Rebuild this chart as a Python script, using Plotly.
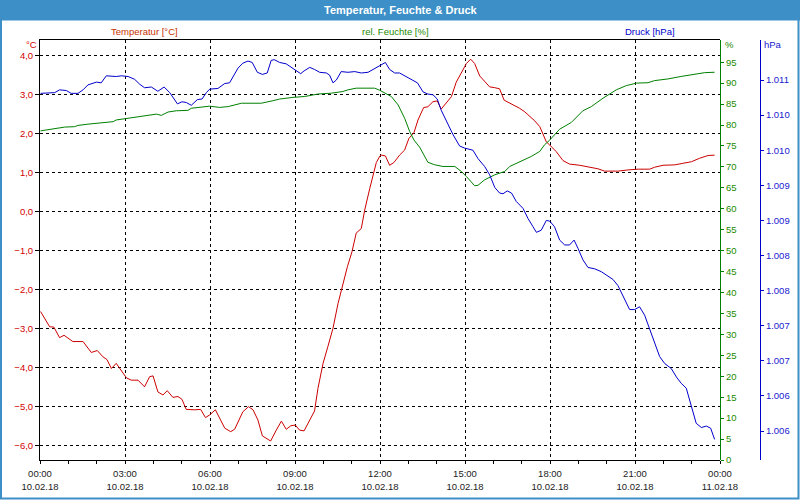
import pandas as pd
import plotly.graph_objects as go

# ---------------- data ----------------
temp_hours = [0.02, 0.34, 0.49, 0.69, 0.85, 1.16, 1.52, 1.81, 2.02, 2.22, 2.36, 2.52, 2.69, 2.87,
              3.05, 3.22, 3.46, 3.69, 3.87, 3.99, 4.16, 4.34, 4.49, 4.69, 4.87, 5.01, 5.16, 5.46,
              5.67, 5.84, 5.99, 6.19, 6.52, 6.73, 6.87, 7.16, 7.36, 7.52, 7.69, 7.85, 7.99, 8.14,
              8.34, 8.52, 8.69, 8.85, 9.01, 9.16, 9.32, 9.49, 9.69, 9.81, 9.99, 10.16, 10.34,
              10.52, 10.69, 10.85, 11.01, 11.16, 11.34, 11.46, 11.64, 11.78, 11.87, 12.00, 12.05,
              12.19, 12.34, 12.49, 12.69, 12.87, 13.02, 13.20, 13.34, 13.54, 13.69, 13.87, 14.02,
              14.16, 14.34, 14.52, 14.69, 14.87, 15.05, 15.20, 15.34, 15.52, 15.69, 15.87, 16.05,
              16.22, 16.38, 16.58, 16.75, 16.93, 17.11, 17.28, 17.46, 17.64, 17.75, 17.87, 17.99,
              18.22, 18.46, 18.69, 19.05, 19.40, 19.69, 19.93, 20.40, 20.75, 21.11, 21.52, 21.69,
              21.99, 22.40, 22.69, 22.99, 23.28, 23.58, 23.81]
temp_values = [-2.57, -2.96, -2.97, -3.24, -3.18, -3.34, -3.34, -3.62, -3.57, -3.73, -3.80, -4.03,
               -3.90, -4.07, -4.27, -4.33, -4.33, -4.50, -4.24, -4.22, -4.63, -4.71, -4.60, -4.77,
               -4.75, -4.82, -5.08, -5.09, -5.08, -5.29, -5.22, -5.09, -5.56, -5.65, -5.59, -5.14,
               -5.01, -5.09, -5.35, -5.76, -5.82, -5.89, -5.61, -5.38, -5.59, -5.50, -5.48, -5.61,
               -5.63, -5.38, -5.12, -4.54, -3.90, -3.47, -3.00, -2.36, -1.85, -1.42, -1.04, -0.56,
               -0.44, 0.03, 0.59, 1.02, 1.25, 1.42, 1.44, 1.42, 1.18, 1.25, 1.44, 1.57, 1.87, 2.02,
               2.34, 2.66, 2.68, 2.81, 2.83, 2.62, 2.77, 2.94, 3.31, 3.56, 3.79, 3.90, 3.79, 3.47,
               3.34, 3.19, 3.17, 3.14, 2.85, 2.77, 2.72, 2.64, 2.55, 2.44, 2.32, 2.17, 1.96, 1.78,
               1.70, 1.53, 1.30, 1.21, 1.18, 1.14, 1.09, 1.03, 1.03, 1.06, 1.08, 1.08, 1.13, 1.18,
               1.19, 1.23, 1.27, 1.36, 1.43, 1.44]

hum_hours = [0.02, 0.40, 0.75, 0.87, 1.22, 1.34, 1.69, 1.93, 2.58, 2.69, 2.99, 3.34, 3.69, 4.11,
             4.28, 4.52, 4.81, 5.22, 5.34, 5.81, 5.99, 6.34, 6.64, 7.11, 7.81, 8.22, 8.46, 8.93,
             9.34, 9.81, 10.28, 10.69, 10.87, 11.16, 11.52, 11.81, 11.99, 12.16, 12.40, 12.64,
             12.87, 13.05, 13.20, 13.40, 13.69, 13.93, 14.22, 14.64, 14.87, 15.05, 15.34, 15.46,
             15.69, 16.05, 16.40, 16.58, 16.99, 17.34, 17.64, 17.81, 17.99, 18.34, 18.75, 19.16,
             19.46, 19.87, 20.34, 20.69, 21.05, 21.46, 21.69, 22.16, 22.63, 23.11, 23.46, 23.81]
hum_values = [78.6, 79.0, 79.2, 79.5, 79.6, 79.9, 80.2, 80.4, 80.8, 81.2, 81.5, 82.0, 82.2, 82.6,
              82.3, 83.1, 83.4, 83.5, 84.0, 84.3, 84.5, 84.2, 84.4, 85.2, 85.2, 85.8, 86.2, 86.6,
              86.8, 87.4, 87.6, 88.0, 88.4, 88.8, 88.7, 88.8, 88.3, 87.6, 86.8, 84.8, 81.6, 78.4,
              76.4, 74.7, 71.1, 70.5, 70.1, 70.1, 68.9, 67.7, 65.5, 65.6, 66.9, 68.1, 68.9, 70.1,
              71.3, 72.5, 73.7, 75.3, 76.4, 79.0, 80.6, 83.4, 84.4, 86.4, 88.4, 89.4, 90.0, 90.1,
              90.6, 91.0, 91.6, 92.2, 92.5, 92.6]

pres_hours = [0.02, 0.28, 0.52, 0.69, 0.93, 1.10, 1.34, 1.52, 1.69, 1.99, 2.16, 2.34, 2.69, 2.87,
              3.11, 3.34, 3.52, 3.69, 3.93, 4.16, 4.38, 4.58, 4.85, 5.01, 5.16, 5.34, 5.55, 5.72,
              5.87, 5.99, 6.28, 6.52, 6.69, 6.99, 7.16, 7.34, 7.49, 7.67, 7.85, 8.02, 8.16, 8.27,
              8.46, 8.69, 8.87, 9.05, 9.20, 9.32, 9.52, 9.69, 9.87, 10.11, 10.22, 10.34, 10.46,
              10.63, 10.87, 11.11, 11.34, 11.58, 11.81, 11.99, 12.19, 12.34, 12.52, 12.69, 12.93,
              13.11, 13.32, 13.52, 13.69, 13.87, 14.02, 14.16, 14.34, 14.58, 14.81, 14.99, 15.28,
              15.46, 15.69, 15.87, 16.05, 16.22, 16.34, 16.49, 16.64, 16.81, 17.05, 17.22, 17.40,
              17.52, 17.69, 17.87, 17.99, 18.16, 18.34, 18.52, 18.69, 18.85, 18.99, 19.16, 19.34,
              19.58, 19.81, 20.05, 20.22, 20.40, 20.58, 20.81, 20.99, 21.16, 21.34, 21.52, 21.69,
              21.87, 22.05, 22.28, 22.46, 22.63, 22.81, 22.93, 23.05, 23.16, 23.34, 23.52, 23.67,
              23.81]
pres_values = [1010.81, 1010.82, 1010.82, 1010.86, 1010.85, 1010.81, 1010.81, 1010.86, 1010.93,
               1010.97, 1010.96, 1011.06, 1011.05, 1011.06, 1011.05, 1011.01, 1010.94, 1010.89,
               1010.90, 1010.84, 1010.90, 1010.82, 1010.66, 1010.69, 1010.68, 1010.64, 1010.72,
               1010.73, 1010.82, 1010.87, 1010.88, 1010.95, 1010.96, 1011.17, 1011.24, 1011.27,
               1011.25, 1011.11, 1011.08, 1011.10, 1011.28, 1011.29, 1011.25, 1011.23, 1011.18,
               1011.13, 1011.09, 1011.13, 1011.18, 1011.15, 1011.11, 1011.10, 1011.07, 1010.96,
               1011.00, 1011.12, 1011.11, 1011.12, 1011.10, 1011.11, 1011.16, 1011.20, 1011.25,
               1011.15, 1011.10, 1011.10, 1011.05, 1011.01, 1010.96, 1010.83, 1010.80, 1010.79,
               1010.73, 1010.57, 1010.41, 1010.22, 1010.06, 1010.03, 1010.00, 1009.88, 1009.77,
               1009.65, 1009.47, 1009.39, 1009.38, 1009.42, 1009.39, 1009.27, 1009.17, 1009.03,
               1008.91, 1008.83, 1008.86, 1009.00, 1008.99, 1008.91, 1008.72, 1008.65, 1008.65,
               1008.72, 1008.60, 1008.44, 1008.33, 1008.31, 1008.27, 1008.21, 1008.16, 1008.07,
               1007.91, 1007.73, 1007.73, 1007.77, 1007.65, 1007.44, 1007.27, 1007.06, 1006.96,
               1006.89, 1006.77, 1006.68, 1006.61, 1006.44, 1006.25, 1006.11, 1006.05, 1006.07,
               1006.04, 1005.88]

temp_ticks = [-6, -5, -4, -3, -2, -1, 0, 1, 2, 3, 4]
hum_ticks = list(range(0, 100, 5))
pres_ticks = [1006.0, 1006.5, 1007.0, 1007.5, 1008.0, 1008.5, 1009.0, 1009.5, 1010.0, 1010.5, 1011.0]
pres_ticktext = ["1.006", "1.006", "1.007", "1.007", "1.008", "1.008", "1.009", "1.009",
                 "1.010", "1.010", "1.011"]

title_text = "Temperatur, Feuchte & Druck"
series_names = ["Temperatur [°C]", "rel. Feuchte [%]", "Druck [hPa]"]
unit_labels = ["°C", "%", "hPa"]

# ---------------- figure ----------------
W, H = 800, 500
FONT = "Liberation Sans"
base = pd.Timestamp("2018-02-10 00:00")
end = base + pd.Timedelta(hours=24)


def to_dt(hours):
    return [base + pd.Timedelta(hours=h) for h in hours]


def px_x(p):
    return p / W


def px_y(p):
    return 1 - p / H


RED = "#cc0000"
GREEN = "#008000"
BLUE = "#0000cc"
FRAME = "#3c8fc7"
XLBL = "#222222"

fig = go.Figure()
fig.add_trace(go.Scatter(x=to_dt(hum_hours), y=hum_values, yaxis="y2", mode="lines",
                         line=dict(color=GREEN, width=1), name=series_names[1]))
fig.add_trace(go.Scatter(x=to_dt(pres_hours), y=pres_values, yaxis="y3", mode="lines",
                         line=dict(color=BLUE, width=1), name=series_names[2]))
fig.add_trace(go.Scatter(x=to_dt(temp_hours), y=temp_values, yaxis="y", mode="lines",
                         line=dict(color=RED, width=1), name=series_names[0]))

fig.update_layout(
    width=W, height=H,
    margin=dict(l=0, r=0, t=0, b=0, autoexpand=False),
    paper_bgcolor="white", plot_bgcolor="white",
    showlegend=False,
    separators=",.",
    font=dict(family=FONT, size=9.5, color=XLBL),
    xaxis=dict(
        domain=[px_x(40), px_x(720)], automargin=False,
        type="date", range=[base, end],
        tick0=base, dtick=3 * 3600 * 1000,
        tickformat="%H:%M<br>%d.%m.%y",
        ticks="outside", ticklen=3, tickcolor="black", tickwidth=1,
        ticklabelstandoff=2,
        showline=True, linecolor="black", linewidth=1, mirror=True,
        showgrid=True, gridcolor="black", gridwidth=1, griddash="3px,3px",
        zeroline=False,
        tickfont=dict(family=FONT, size=9.5, color=XLBL),
        minor=dict(dtick=3600 * 1000, ticks="outside", ticklen=3, tickcolor="black",
                   showgrid=False),
    ),
    yaxis=dict(
        domain=[1 - 460 / H, 1 - 40 / H], automargin=False,
        range=[-6.377, 4.392],
        tickvals=temp_ticks, tickformat=".1f",
        ticks="outside", ticklen=4, tickcolor="black",
        showline=True, linecolor="black", linewidth=1,
        showgrid=True, gridcolor="black", gridwidth=1, griddash="3px,3px",
        zeroline=False,
        tickfont=dict(family=FONT, size=9.5, color="#d40000"),
    ),
    yaxis2=dict(
        overlaying="y", side="right", anchor="free", position=px_x(720), automargin=False,
        range=[0, 100.3], tickvals=hum_ticks,
        ticks="outside", ticklen=3, tickcolor=GREEN,
        showline=True, linecolor=GREEN, linewidth=1,
        showgrid=False, zeroline=False,
        tickfont=dict(family=FONT, size=9.5, color="#1c8a00"),
    ),
    yaxis3=dict(
        overlaying="y", side="right", anchor="free", position=px_x(760), automargin=False,
        range=[1005.587, 1011.57], tickvals=pres_ticks, ticktext=pres_ticktext,
        ticks="outside", ticklen=3, tickcolor=BLUE,
        showline=True, linecolor=BLUE, linewidth=1,
        showgrid=False, zeroline=False,
        tickfont=dict(family=FONT, size=9.5, color="#2020d0"),
    ),
    shapes=[
        dict(type="rect", xref="paper", yref="paper", x0=0, x1=1, y0=px_y(20.5), y1=1,
             fillcolor=FRAME, line=dict(width=0), layer="below"),
        dict(type="rect", xref="paper", yref="paper", x0=px_x(1), x1=px_x(798.5),
             y0=px_y(498.5), y1=1, line=dict(color=FRAME, width=2), layer="below"),
    ],
)

annotations = [
    dict(text="<b>" + title_text + "</b>", x=0.5, y=px_y(10), font=dict(color="white", size=11)),
    dict(text=series_names[0], x=px_x(144), y=px_y(31), font=dict(color="#c83200", size=9.5)),
    dict(text=series_names[1], x=px_x(395), y=px_y(31), font=dict(color="#1c8a00", size=9.5)),
    dict(text=series_names[2], x=px_x(650), y=px_y(31), font=dict(color=BLUE, size=9.5)),
    dict(text=unit_labels[0], x=px_x(31), y=px_y(45), font=dict(color="#d40000", size=9.5)),
    dict(text=unit_labels[1], x=px_x(729.5), y=px_y(45), font=dict(color="#1c8a00", size=9.5)),
    dict(text=unit_labels[2], x=px_x(773), y=px_y(45), font=dict(color="#2020d0", size=9.5)),
]
for a in annotations:
    a.update(xref="paper", yref="paper", xanchor="center", yanchor="middle", showarrow=False)
    a["font"]["family"] = FONT
fig.update_layout(annotations=annotations)

fig.write_html("out.html")
